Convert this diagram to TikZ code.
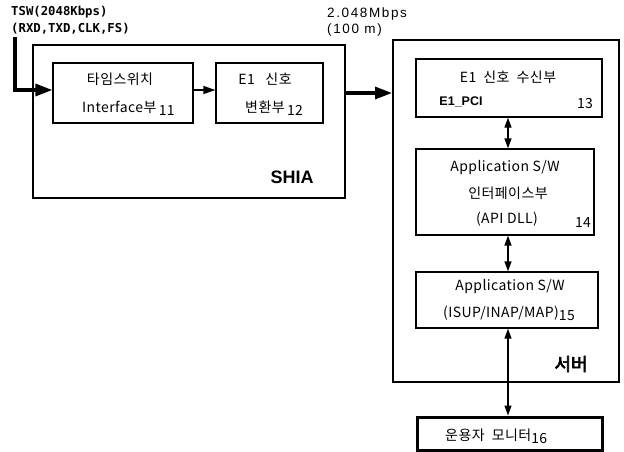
\documentclass[tikz,border=0pt]{standalone}
\usepackage{fontspec}
\setmainfont{Noto Sans CJK KR}[LetterSpace=3]
\newfontfamily\spacedsans[LetterSpace=12]{Liberation Sans}
\newfontfamily\boldsans{Liberation Sans Bold}
\newfontfamily\monobold{DejaVu Sans Mono Bold}
\newfontfamily\cjkbold[FakeBold=3.5]{Noto Sans CJK KR}
\usetikzlibrary{arrows.meta}
\begin{document}
\begin{tikzpicture}[x=1pt,y=-1pt,
  frame/.style={draw, line width=2pt, inner sep=0pt},
  block/.style={draw, line width=1.3pt, inner sep=0pt},
  heavyblock/.style={draw, line width=3pt, inner sep=0pt},
  bigarrow/.style={line width=3.2pt, -{Triangle[length=17pt,width=12pt]}},
  smallarrow/.style={line width=1.4pt, -{Triangle[length=12pt,width=8pt]}},
  bothways/.style={line width=1.3pt, {Triangle[length=10pt,width=7pt]}-{Triangle[length=10pt,width=7pt]}},
  txt/.style={font=\fontsize{14}{16}\selectfont, inner sep=0pt},
]
\useasboundingbox (0,0) rectangle (624,452);

% SHIA board and its two blocks
\node[frame, minimum width=312pt, minimum height=153pt] (shia) at (189,121.5) {};
\node[block, minimum width=140pt, minimum height=60pt] (b11) at (123,93) {};
\node[block, minimum width=107pt, minimum height=60pt] (b12) at (269.5,93) {};

% server and its blocks
\node[frame, minimum width=226pt, minimum height=342pt] (server) at (506,211) {};
\node[block, minimum width=186pt, minimum height=58pt] (b13) at (509,88) {};
\node[block, minimum width=178pt, minimum height=86pt] (b14) at (505,192) {};
\node[block, minimum width=182pt, minimum height=56pt] (b15) at (507,300) {};

% operator monitor
\node[heavyblock, minimum width=185pt, minimum height=33pt] (mon) at (509.5,433.5) {};

% texts of the SHIA board
\node[txt] (t11a) at (120,79) {타임스위치};
\node[txt, anchor=west] (t11b) at (82,108) {Interface부\,\raisebox{-3pt}{11}};
\node[txt] (t12a) at (265,79) {E1\ \ \ 신호};
\node[txt, anchor=west] (t12b) at (245,108) {변환부\,\raisebox{-3pt}{12}};
\node[inner sep=0pt, font=\boldsans\fontsize{18}{20}\selectfont] (shialbl) at (292,177) {SHIA};

% texts of the server
\node[txt] (t13a) at (508,77) {E1\ \ 신호\ \ 수신부};
\node[inner sep=0pt, font=\boldsans\fontsize{12.5}{14}\selectfont] (t13b) at (461,102) {E1\_PCI};
\node[txt] (t13c) at (585,104) {13};
\node[txt] (t14a) at (505,168) {Application S/W};
\node[txt] (t14b) at (508,193) {인터페이스부};
\node[txt] (t14c) at (507,219) {(API DLL)};
\node[txt] (t14d) at (583,223) {14};
\node[txt] (t15a) at (510,287) {Application S/W};
\node[txt, anchor=west] (t15b) at (443,313) {(ISUP/INAP/MAP)\raisebox{-3pt}{15}};
\node[inner sep=0pt, font=\cjkbold\fontsize{18}{20}\selectfont] (srvlbl) at (571,364) {서버};
\node[txt, anchor=west] (t16) at (445,436) {운용자\ \ 모니터\raisebox{-3pt}{16}};

% link labels
\node[inner sep=0pt, anchor=west, align=left, font=\monobold\fontsize{12.3}{16.5}\selectfont] (tswlbl) at (11,20) {TSW(2048Kbps)\\(RXD,TXD,CLK,FS)};
\node[inner sep=0pt, anchor=west, align=left, font=\spacedsans\fontsize{13.5}{16.5}\selectfont] (ratelbl) at (327,22) {2.048Mbps\\(100 m)};

% connectors
\coordinate (tswin) at (15,37);
\coordinate (ylow) at (0,90);
\coordinate (ylink) at (0,93);
\coordinate (xbus) at (508,0);
\draw[bigarrow] (tswin) |- (b11.west |- ylow);
\draw[smallarrow] (b11.east |- ylow) -- (b12.west |- ylow);
\draw[bigarrow] (shia.east |- ylink) -- (server.west |- ylink);
\draw[bothways] (b13.south -| xbus) -- (b14.north -| xbus);
\draw[bothways] (b14.south -| xbus) -- (b15.north -| xbus);
\draw[bothways] (b15.south -| xbus) -- (mon.north -| xbus);
\end{tikzpicture}
\end{document}
